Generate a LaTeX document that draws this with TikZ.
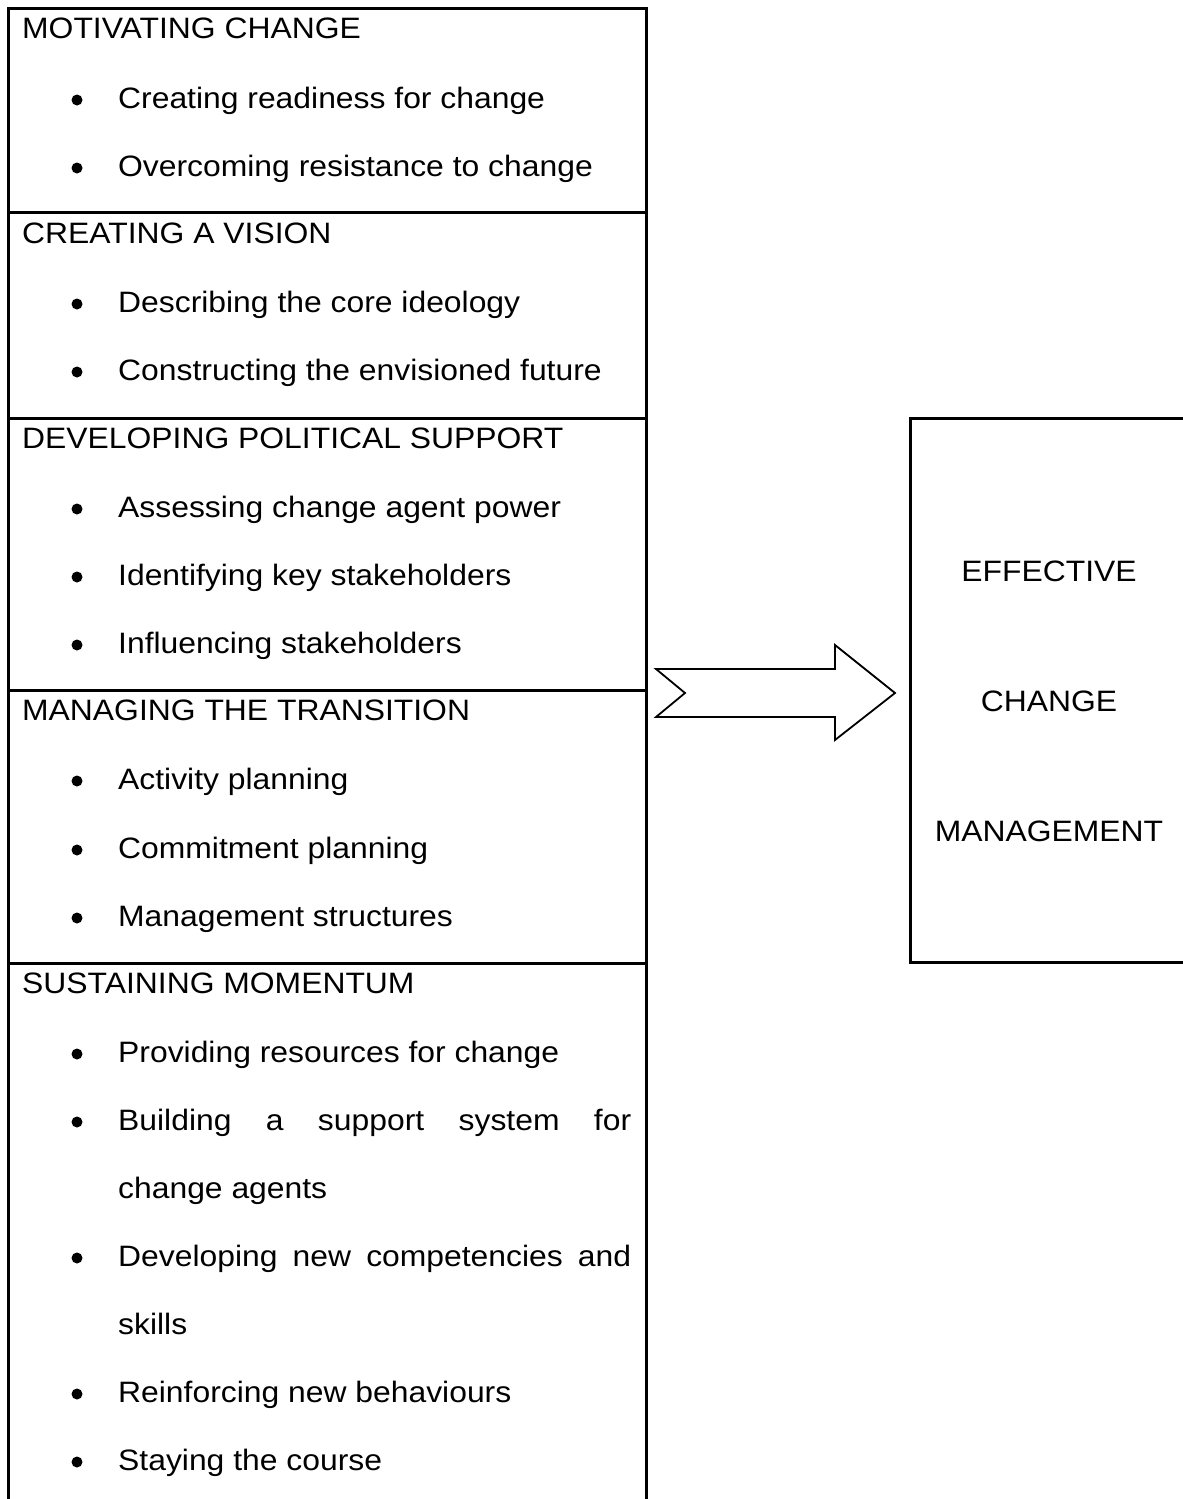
\documentclass[tikz,border=0pt]{standalone}
\usepackage{fontspec}
\setmainfont{Liberation Sans}[FakeStretch=1.08]
\begin{document}
\begin{tikzpicture}[x=1pt,y=-1pt,
  frame/.style={line width=3pt},
  txt/.style={anchor=base west,inner sep=0pt,font=\fontsize{29.5}{35}\selectfont},
  ctr/.style={anchor=base,inner sep=0pt,font=\fontsize{29.5}{35}\selectfont},
  dot/.style={circle,fill=black,inner sep=0pt,minimum size=11pt}]
\useasboundingbox (0,0) rectangle (1183,1499);
\fill[white] (0,0) rectangle (1183,1499);
% left box
\draw[frame] (8,1510) -- (8,8) -- (646,8) -- (646,1510);
\draw[frame] (8,212) -- (646,212);
\draw[frame] (8,418) -- (646,418);
\draw[frame] (8,690) -- (646,690);
\draw[frame] (8,963) -- (646,963);
% headings
\node[txt] (h1) at (22,38) {MOTIVATING CHANGE};
\node[txt] (h2) at (22,243) {CREATING A VISION};
\node[txt] (h3) at (22,448) {DEVELOPING POLITICAL SUPPORT};
\node[txt] (h4) at (22,720) {MANAGING THE TRANSITION};
\node[txt] (h5) at (22,993) {SUSTAINING MOMENTUM};
% bullets
\foreach \y/\t [count=\i] in {
  108/Creating readiness for change,
  176/Overcoming resistance to change,
  312/Describing the core ideology,
  380/Constructing the envisioned future,
  517/Assessing change agent power,
  585/Identifying key stakeholders,
  653/Influencing stakeholders,
  789/Activity planning,
  858/Commitment planning,
  926/Management structures,
  1062/Providing resources for change,
  1402/Reinforcing new behaviours,
  1470/Staying the course}{
  \node[dot] (b\i) at (77,\y-8) {};
  \node[txt] (t\i) at (118,\y) {\t};
}
\node[dot] (bb1) at (77,1122) {};
\node[txt] (tb1) at (118,1130) {\makebox[513pt][s]{Building a support system for}};
\node[txt] (tb2) at (118,1198) {change agents};
\node[dot] (bc1) at (77,1258) {};
\node[txt] (tc1) at (118,1266) {\makebox[513pt][s]{Developing new competencies and}};
\node[txt] (tc2) at (118,1334) {skills};
% arrow
\draw[line width=1.8pt,line join=miter,fill=white] (656,669) -- (835,669) -- (835,645) -- (895,693)
  -- (835,740) -- (835,717) -- (656,717) -- (685,693) -- cycle;
% right box
\draw[frame] (1190,418) -- (910,418) -- (910,962) -- (1190,962);
\node[ctr] (e1) at (1049,581) {EFFECTIVE};
\node[ctr] (e2) at (1049,711) {CHANGE};
\node[ctr] (e3) at (1049,841) {MANAGEMENT};
\end{tikzpicture}
\end{document}
